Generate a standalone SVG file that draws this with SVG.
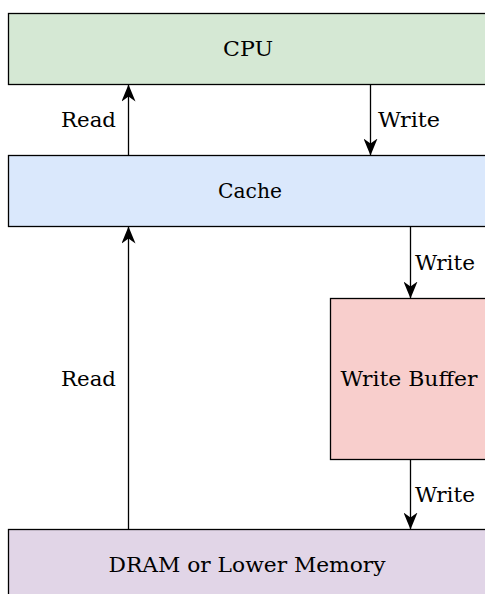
<svg xmlns="http://www.w3.org/2000/svg" width="485" height="594" viewBox="0 0 485 594">
<style>
.box{stroke:#000;stroke-width:1.3}
.lbl{font-family:"DejaVu Serif",serif;font-size:21px;fill:#000}
.c{text-anchor:middle}
.e{text-anchor:end}
.edge{stroke:#000;stroke-width:1.3;fill:none;marker-end:url(#arr)}
</style>
<defs>
<marker id="arr" markerUnits="userSpaceOnUse" viewBox="0 0 17 14" markerWidth="17" markerHeight="14" refX="17" refY="7" orient="auto">
<path d="M0,0 L17,7 L0,14 L5,7 Z" fill="#000"/>
</marker>
</defs>
<rect width="485" height="594" fill="#fff"/>
<g id="cpu">
<rect class="box" x="8.5" y="13.5" width="480" height="71" fill="#d5e8d4"/>
<text class="lbl c" x="248" y="56" textLength="50" lengthAdjust="spacingAndGlyphs">CPU</text>
</g>
<g id="cache">
<rect class="box" x="8.5" y="155.5" width="480" height="71" fill="#dae8fc"/>
<text class="lbl c" x="250" y="198" textLength="64" lengthAdjust="spacingAndGlyphs">Cache</text>
</g>
<g id="write-buffer">
<rect class="box" x="330.5" y="298.5" width="160" height="161" fill="#f8cecc"/>
<text class="lbl c" x="409" y="386" textLength="137" lengthAdjust="spacingAndGlyphs">Write Buffer</text>
</g>
<g id="dram">
<rect class="box" x="8.5" y="529.5" width="480" height="71" fill="#e1d5e7"/>
<text class="lbl c" x="247" y="572" textLength="277" lengthAdjust="spacingAndGlyphs">DRAM or Lower Memory</text>
</g>
<g id="connectors">
<line class="edge" x1="128.5" y1="155.5" x2="128.5" y2="84.5"/>
<text class="lbl e" x="116" y="127" textLength="55" lengthAdjust="spacingAndGlyphs">Read</text>
<line class="edge" x1="370.5" y1="84.5" x2="370.5" y2="155.5"/>
<text class="lbl" x="378" y="127" textLength="62" lengthAdjust="spacingAndGlyphs">Write</text>
<line class="edge" x1="410.5" y1="226.5" x2="410.5" y2="298.5"/>
<text class="lbl" x="415" y="270" textLength="60" lengthAdjust="spacingAndGlyphs">Write</text>
<line class="edge" x1="410.5" y1="459.5" x2="410.5" y2="529.5"/>
<text class="lbl" x="415" y="502" textLength="60" lengthAdjust="spacingAndGlyphs">Write</text>
<line class="edge" x1="128.5" y1="529.5" x2="128.5" y2="226.5"/>
<text class="lbl e" x="116" y="386" textLength="55" lengthAdjust="spacingAndGlyphs">Read</text>
</g>
</svg>
